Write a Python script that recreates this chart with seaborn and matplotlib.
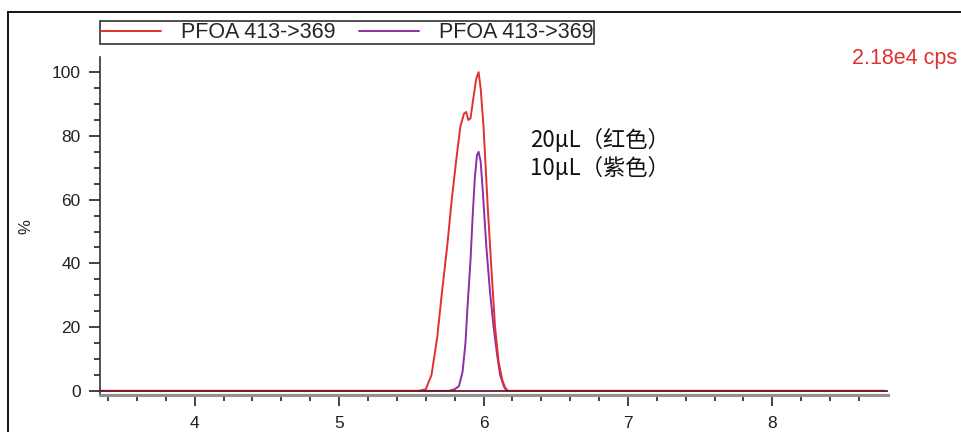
import numpy as np
import pandas as pd
import matplotlib
matplotlib.use("Agg")
import matplotlib.pyplot as plt
from matplotlib.lines import Line2D
import seaborn as sns

# ---- data ----
red_time = [3.35, 5.55, 5.60, 5.64, 5.68, 5.71, 5.75, 5.78, 5.81, 5.84, 5.865, 5.88,
            5.895, 5.91, 5.93, 5.95, 5.966, 5.98, 6.00, 6.03, 6.055, 6.08, 6.105,
            6.13, 6.15, 6.17, 6.20, 8.78]
red_pct = [0, 0, 0.5, 5, 17, 30, 46, 60, 72, 83, 87, 87.5,
           85, 85.5, 92, 98, 100, 95, 83, 57, 38, 20, 9,
           3.4, 1, 0, 0, 0]

purple_time = [3.35, 5.76, 5.80, 5.83, 5.855, 5.875, 5.89, 5.91, 5.925, 5.94, 5.955,
               5.966, 5.98, 5.993, 6.01, 6.02, 6.045, 6.07, 6.095, 6.115, 6.14, 6.16, 8.78]
purple_pct = [0, 0, 0.5, 1.5, 6, 15, 27, 41, 55, 67, 74,
              75, 72, 64, 52, 45, 31, 20, 11, 5, 1.5, 0, 0]

legend_labels = ["PFOA 413->369", "PFOA 413->369"]
x_ticks = [4, 5, 6, 7, 8]
y_ticks = [0, 20, 40, 60, 80, 100]
intensity_text = "2.18e4 cps"
note_text = "20\u03bcL\uff08红色\uff09\n10\u03bcL\uff08紫色\uff09"

RED = "#e03030"
PURPLE = "#8a2fa8"

sns.set_style("ticks")
plt.rcParams["font.family"] = ["Liberation Sans", "Noto Sans CJK SC", "DejaVu Sans"]

fig = plt.figure(figsize=(9.62, 4.32), dpi=100)
ax = fig.add_axes([0.104, 0.0856, 0.819, 0.782])

red_df = pd.DataFrame({"time": red_time, "pct": red_pct})
pur_df = pd.DataFrame({"time": purple_time, "pct": purple_pct})

sns.lineplot(data=red_df, x="time", y="pct", color=RED, lw=1.4, ax=ax,
             label=legend_labels[0], sort=False)
sns.lineplot(data=pur_df, x="time", y="pct", color=PURPLE, lw=1.4, ax=ax,
             label=legend_labels[1], sort=False)
lines = ax.get_lines()
lines[0].set_zorder(3)
lines[1].set_zorder(2)
ax.axhline(0, color="#6a1a24", lw=1.3, zorder=4)

ax.set_xlim(3.345, 8.80)
ax.set_ylim(-1.3, 104.7)
ax.set_xlabel("")
ax.set_ylabel("%", fontsize=12)
ax.yaxis.set_label_coords(-0.085, 0.5)

ax.set_xticks(x_ticks)
ax.set_xticks(np.arange(3.4, 8.8, 0.2), minor=True)
ax.set_yticks(y_ticks)
ax.set_yticks(np.arange(0, 101, 5), minor=True)
ax.tick_params(axis="both", which="major", labelsize=12.5, length=8, width=1.2,
               color="#222222", labelcolor="#222222")
ax.tick_params(axis="both", which="minor", length=4, width=1.2, color="#222222")
ax.tick_params(axis="y", pad=6)
ax.tick_params(axis="x", pad=7)

for s in ["top", "right"]:
    ax.spines[s].set_visible(False)
ax.spines["left"].set_color("#333333")
ax.spines["left"].set_linewidth(1.2)
ax.spines["bottom"].set_color("#909090")
ax.spines["bottom"].set_linewidth(2.2)

leg = ax.legend(loc="upper left", bbox_to_anchor=(0.104, 0.951),
                bbox_transform=fig.transFigure, ncol=2, frameon=True,
                fancybox=False, fontsize=15.5, handlelength=2.8,
                columnspacing=1.1, borderpad=0.05, handletextpad=0.9,
                borderaxespad=0)
leg.get_frame().set_edgecolor("black")
leg.get_frame().set_linewidth(1.2)

fig.text(0.995, 0.865, intensity_text, color=RED, fontsize=15.5, ha="right", va="center")
ax.text(0.551, 0.644, note_text, transform=fig.transFigure, fontsize=16,
        ha="left", va="center", linespacing=1.2, color="#111111",
        family=["Noto Sans CJK SC", "DejaVu Sans"])

# outer frame lines
fig.add_artist(Line2D([0.0083, 1.0], [0.972, 0.972], color="black", lw=1.3,
                      transform=fig.transFigure))
fig.add_artist(Line2D([0.0083, 0.0083], [0.0, 0.972], color="black", lw=1.3,
                      transform=fig.transFigure))

fig.savefig("out.png", dpi=100)
